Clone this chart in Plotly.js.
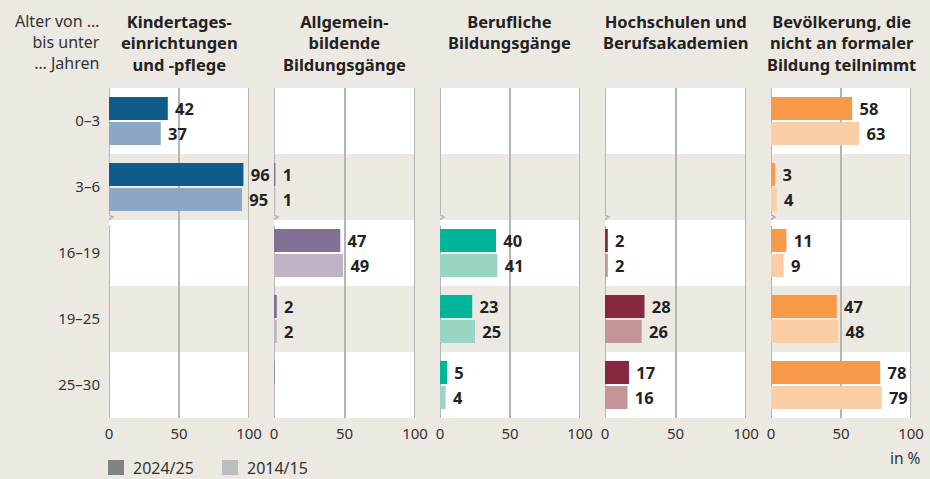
<!DOCTYPE html>
<html>
<head>
<meta charset="utf-8">
<script src="https://cdn.plot.ly/plotly-3.0.1.min.js"></script>
<style>
  html, body { margin: 0; padding: 0; background: #ece9e2; }
  #chart { width: 930px; height: 479px; }
</style>
</head>
<body>
<div id="chart"></div>
<script>
// ---- Data ----
const ageGroups = ['0–3', '3–6', '16–19', '19–25', '25–30'];
const panelTitles = [
  'Kindertages-<br>einrichtungen<br>und -pflege',
  'Allgemein-<br>bildende<br>Bildungsgänge',
  'Berufliche<br>Bildungsgänge',
  'Hochschulen und<br>Berufsakademien',
  'Bevölkerung, die<br>nicht an formaler<br>Bildung teilnimmt'
];
const seriesNames = ['2024/25', '2014/15'];
const kita2024 = [42, 96, null, null, null];
const kita2014 = [37, 95, null, null, null];
const allg2024 = [null, 1, 47, 2, 0.4];
const allg2014 = [null, 1, 49, 2, 0.4];
const beruf2024 = [null, null, 40, 23, 5];
const beruf2014 = [null, null, 41, 25, 4];
const hoch2024 = [null, null, 2, 28, 17];
const hoch2014 = [null, null, 2, 26, 16];
const nicht2024 = [58, 3, 11, 47, 78];
const nicht2014 = [63, 4, 9, 48, 79];
const xTicks = [0, 50, 100];
const headerText = 'Alter von …<br>bis unter<br>… Jahren';
const unitText = 'in %';

// ---- Styles ----
const panels = [
  { a: kita2024, b: kita2014, ca: '#0e5c8a', cb: '#8aa7c5' },
  { a: allg2024, b: allg2014, ca: '#837095', cb: '#c1b3c6' },
  { a: beruf2024, b: beruf2014, ca: '#00b59a', cb: '#98d5c5' },
  { a: hoch2024, b: hoch2014, ca: '#86283f', cb: '#c49497' },
  { a: nicht2024, b: nicht2014, ca: '#f79a4a', cb: '#facda4' }
];
const legendColors = ['#808285', '#bcbdc0'];
const W = 930, H = 479, plotTop = 88, plotBottom = 418;
const ph = plotBottom - plotTop;
const panelPx = [[109, 249], [274, 415], [440, 580], [605, 746], [771, 911]];
const beige = '#ece9e2';
const gridCol = '#b5b5b5';
const font = 'Noto Sans, sans-serif';
const py = px => (plotBottom - px) / ph;

const labelOf = v => (v == null || v < 0.5) ? '' : '\u00a0' + Math.round(v);

const traces = [];
const layout = {
  width: W, height: H,
  margin: { l: 0, r: 0, t: plotTop, b: H - plotBottom, pad: 0 },
  paper_bgcolor: beige,
  plot_bgcolor: '#ffffff',
  showlegend: false,
  barmode: 'group',
  bargap: 0.24,
  bargroupgap: 0.08,
  font: { family: font, size: 15, color: '#333' },
  yaxis: {
    type: 'category',
    categoryarray: ageGroups,
    autorange: 'reversed',
    anchor: 'x',
    showgrid: false, zeroline: false, showline: false,
    ticks: '',
    ticklabelstandoff: 8,
    tickfont: { family: font, size: 15, color: '#333' }
  },
  shapes: [],
  annotations: []
};

panels.forEach((p, i) => {
  const n = i === 0 ? '' : String(i + 1);
  const xa = 'x' + n;
  [p.a, p.b].forEach((vals, k) => {
    traces.push({
      type: 'bar', orientation: 'h',
      x: vals, y: ageGroups,
      xaxis: xa, yaxis: 'y',
      name: seriesNames[k],
      marker: { color: k === 0 ? p.ca : p.cb, line: { width: 0 } },
      text: vals.map(labelOf),
      textposition: 'outside',
      textfont: { family: font, size: 16.5, color: '#222', weight: 'bold' },
      constraintext: 'none',
      cliponaxis: false,
      hoverinfo: 'skip'
    });
  });
  layout['xaxis' + n] = {
    domain: [panelPx[i][0] / W, panelPx[i][1] / W],
    anchor: 'y',
    range: [0, 100],
    tickvals: xTicks,
    ticktext: xTicks.map(String),
    ticks: '',
    ticklabelstandoff: 5,
    showgrid: true, gridcolor: gridCol, gridwidth: 2,
    zeroline: false, showline: false,
    tickfont: { family: font, size: 15, color: '#333' },
    fixedrange: true
  };
  // beige bands for rows 2 and 4
  [1, 3].forEach(r => {
    layout.shapes.push({
      type: 'rect', xref: xa + ' domain', yref: 'y',
      x0: 0, x1: 1, y0: r - 0.5, y1: r + 0.5,
      fillcolor: beige, line: { width: 0 }, layer: 'below'
    });
  });
  // edge lines at 0 and 100 (grid lines at the plot edges)
  [xTicks[0], xTicks[xTicks.length - 1]].forEach(v => {
    layout.shapes.push({
      type: 'line', xref: xa, yref: 'paper',
      x0: v, x1: v, y0: 0, y1: 1,
      line: { color: gridCol, width: 2 }, layer: 'below'
    });
  });
  // break mark on the zero line between 3–6 and 16–19
  layout.shapes.push({
    type: 'rect', xref: xa, yref: 'y', xsizemode: 'pixel', ysizemode: 'pixel',
    xanchor: 0, yanchor: 1.5, x0: -2, x1: 2, y0: 0, y1: 6,
    fillcolor: beige, line: { width: 0 }, layer: 'above'
  });
  layout.shapes.push({
    type: 'rect', xref: xa, yref: 'y', xsizemode: 'pixel', ysizemode: 'pixel',
    xanchor: 0, yanchor: 1.5, x0: -2, x1: 2, y0: -6, y1: 0,
    fillcolor: '#ffffff', line: { width: 0 }, layer: 'above'
  });
  layout.shapes.push({
    type: 'path', xref: xa, yref: 'y', xsizemode: 'pixel', ysizemode: 'pixel',
    xanchor: 0, yanchor: 1.5,
    path: 'M0,7 L0,5 L4,3 L-4,-2 L0,-6 L0,-7',
    line: { color: gridCol, width: 1.5 }, layer: 'above'
  });
  // panel title
  layout.annotations.push({
    xref: 'paper', yref: 'paper',
    x: (panelPx[i][0] + panelPx[i][1]) / 2 / W, y: py(8),
    xanchor: 'center', yanchor: 'top', align: 'center',
    text: panelTitles[i], showarrow: false,
    font: { family: font, size: 16.5, color: '#222', weight: 'bold' }
  });
});

// header for age axis
layout.annotations.push({
  xref: 'paper', yref: 'paper', x: 102 / W, y: py(8),
  xanchor: 'right', yanchor: 'top', align: 'right',
  text: headerText, showarrow: false,
  font: { family: font, size: 16, color: '#333' }
});
// unit
layout.annotations.push({
  xref: 'paper', yref: 'paper', x: 923 / W, y: py(458),
  xanchor: 'right', yanchor: 'middle',
  text: unitText, showarrow: false,
  font: { family: font, size: 15.5, color: '#333' }
});
// legend
const legX = [108, 222];
seriesNames.forEach((s, k) => {
  layout.shapes.push({
    type: 'rect', xref: 'paper', yref: 'paper',
    x0: legX[k] / W, x1: (legX[k] + 16) / W, y0: py(475), y1: py(460),
    fillcolor: legendColors[k], line: { width: 0 }
  });
  layout.annotations.push({
    xref: 'paper', yref: 'paper', x: (legX[k] + 23) / W, y: py(468),
    xanchor: 'left', yanchor: 'middle',
    text: s, showarrow: false,
    font: { family: font, size: 16, color: '#333' }
  });
});

Plotly.newPlot('chart', traces, layout, { staticPlot: true, displayModeBar: false });
</script>
</body>
</html>
